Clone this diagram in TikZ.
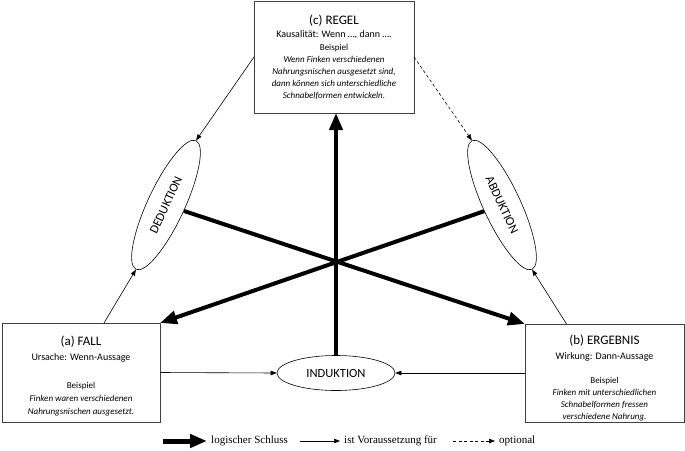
\documentclass[tikz,border=0pt]{standalone}
\usepackage{fontspec}
\setmainfont{Carlito}
\newfontfamily\legendfont{Liberation Serif}
\usetikzlibrary{arrows.meta,shapes.geometric,calc}
\begin{document}
\begin{tikzpicture}[x=1pt,y=-1pt,
  box/.style={draw=black!75, line width=0.9pt, inner sep=0pt, outer sep=0pt},
  ttl/.style={font=\fontsize{13}{15}\selectfont, inner sep=0pt},
  subt/.style={font=\fontsize{10}{12}\selectfont, inner sep=0pt},
  ex/.style={font=\fontsize{9}{12}\selectfont, align=center, inner sep=0pt},
  oval/.style={draw, ellipse, line width=0.6pt, inner sep=0pt, font=\fontsize{12.5}{14}\selectfont},
  arrThin/.style={line width=0.6pt, -{Triangle[length=6pt,width=4.5pt]}},
  arrThick/.style={line width=4pt, -{Triangle[length=17pt,width=13pt]}},
  arrOpt/.style={arrThin, dash pattern=on 3pt off 2.5pt},
  legend/.style={font=\legendfont\fontsize{11}{13}\selectfont, inner sep=0pt, anchor=west},
]
\useasboundingbox (0,0) rectangle (685,450);

% boxes
\node[box, minimum width=160pt, minimum height=112pt] (regel) at (334,57) {};
\node[box, minimum width=158pt, minimum height=99pt] (fall) at (81,372.5) {};
\node[box, minimum width=159pt, minimum height=98pt] (erg) at (604.5,373) {};

% top box text
\node[ttl] (regelT) at (334,21) {(c) REGEL};
\node[subt] (regelS) at (334,35) {Kausalität: Wenn …, dann ….};
\node[ex, anchor=north] (regelE) at (334,44) {Beispiel\\
  \textit{Wenn Finken verschiedenen}\\
  \textit{Nahrungsnischen ausgesetzt sind,}\\
  \textit{dann können sich unterschiedliche}\\
  \textit{Schnabelformen entwickeln.}};

% left box text
\node[ttl] (fallT) at (81,342) {(a) FALL};
\node[subt] (fallS) at (81,358) {Ursache: Wenn-Aussage};
\node[ex, anchor=north, font=\fontsize{9}{13}\selectfont] (fallE) at (81,382) {Beispiel\\
  \textit{Finken waren verschiedenen}\\
  \textit{Nahrungsnischen ausgesetzt.}};

% right box text
\node[ttl] (ergT) at (604.5,341) {(b) ERGEBNIS};
\node[subt] (ergS) at (604.5,357) {Wirkung: Dann-Aussage};
\node[ex, anchor=north] (ergE) at (604.5,377) {Beispiel\\
  \textit{Finken mit unterschiedlichen}\\
  \textit{Schnabelformen fressen}\\
  \textit{verschiedene Nahrung.}};

% ellipses
\node[oval, minimum width=142pt, minimum height=37pt, rotate=65] (ded) at (166,205) {DEDUKTION};
\node[oval, minimum width=142pt, minimum height=37pt, rotate=-65] (abd) at (502,205) {ABDUKTION};
\node[oval, minimum width=118pt, minimum height=35pt] (ind) at (336,373) {INDUKTION};

% thick arrows (logical inference)
\draw[arrThick] (ind.north) -- (ind.north |- regel.south);
\draw[arrThick] (ded) -- (erg.north west);
\draw[arrThick] (abd) -- (fall.north east);

% thin arrows (precondition)
\draw[arrThin] (regel.west) -- (ded.east);
\draw[arrThin] ($(fall.north)+(23,0)$) -- (ded.west);
\draw[arrOpt] (regel.east) -- (abd.west);
\draw[arrThin] ($(erg.north)+(-38,0)$) -- (abd.east);
\draw[arrThin] (fall.east) -- (ind.west);
\draw[arrThin] (erg.west) -- (ind.east);

% legend
\coordinate (l1a) at (163,441);
\coordinate (l1b) at (207,441);
\draw[arrThick, line width=5pt] (l1a) -- (l1b);
\node[legend] (l1t) at (211,441) {logischer Schluss};
\coordinate (l2a) at (300,441);
\coordinate (l2b) at (340,441);
\draw[arrThin] (l2a) -- (l2b);
\node[legend] (l2t) at (344,441) {ist Voraussetzung für};
\coordinate (l3a) at (453,441);
\coordinate (l3b) at (495,441);
\draw[arrOpt] (l3a) -- (l3b);
\node[legend] (l3t) at (499,441) {optional};
\end{tikzpicture}
\end{document}
